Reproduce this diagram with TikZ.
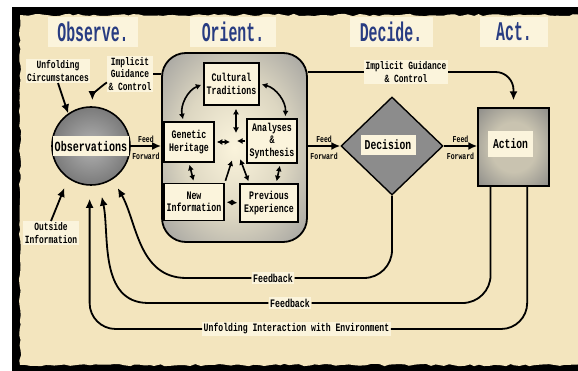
\documentclass[tikz,border=0pt]{standalone}
\usepackage{fontspec}
\usetikzlibrary{shapes.geometric, arrows.meta, decorations.pathmorphing}

\newfontfamily\typefont[FakeStretch=0.72]{Liberation Mono}
\newfontfamily\headfont[FakeStretch=0.55]{Liberation Mono}

\definecolor{parchment}{RGB}{243,229,190}
\definecolor{paper}{RGB}{251,244,220}
\definecolor{headblue}{RGB}{40,60,130}
\colorlet{glowA}{paper!88!black}
\colorlet{glowB}{black!40}
\colorlet{glowC}{black!62}
\colorlet{glowD}{black!75}
\colorlet{actA}{paper!80!black}
\colorlet{actB}{black!50}
\colorlet{actC}{black!68}

\pgfdeclareradialshading{orientglow}{\pgfpoint{0bp}{0bp}}{color(0bp)=(paper); color(18bp)=(glowA); color(38bp)=(glowB); color(50bp)=(glowC); color(75bp)=(glowD)}
\pgfdeclareradialshading{actionglow}{\pgfpoint{0bp}{0bp}}{color(0bp)=(actA); color(16bp)=(actA); color(40bp)=(actB); color(50bp)=(actC); color(75bp)=(glowD)}

\begin{document}
\begin{tikzpicture}[x=1pt, y=1pt,
  >={Latex[length=9pt,width=8pt]},
  flow/.style={line width=1.8pt},
  link/.style={line width=1.6pt, >={Latex[length=5.5pt,width=6pt]}},
  headbox/.style={fill=paper, text=headblue, minimum height=30pt, inner sep=0pt,
    font=\headfont\bfseries\fontsize{27}{27}\selectfont},
  note/.style={fill=paper, align=center, inner sep=1.5pt,
    font=\typefont\bfseries\fontsize{11}{12.5}\selectfont},
  feedlbl/.style={inner sep=1pt, font=\typefont\bfseries\fontsize{9}{9}\selectfont},
  factor/.style={draw, line width=1.6pt, fill=paper, align=center, inner sep=1pt,
    font=\typefont\bfseries\fontsize{11.5}{12.5}\selectfont},
  band/.style={fill=paper, inner sep=0pt,
    font=\typefont\bfseries\fontsize{13.5}{13.5}\selectfont}]

  % page, black edge and parchment
  \useasboundingbox (0,0) rectangle (578,-371);
  \fill[white] (0,0) rectangle (578,-371);
  \fill[black] (12,-7) rectangle (578,-371);
  \fill[parchment, decorate, decoration={random steps, segment length=5pt, amplitude=1.2pt}]
    (20,-15) rectangle (584,-365);

  % headings
  \node[headbox, minimum width=90pt] (observe) at (93,-32) {Observe.};
  \node[headbox, minimum width=86pt] (orienthead) at (233,-32) {Orient.};
  \node[headbox, minimum width=83pt] (decide) at (391,-32) {Decide.};
  \node[headbox, minimum width=68pt] (act) at (514,-32) {Act.};

  % observe
  \node[circle, draw, line width=1.6pt, minimum size=78pt, inner color=black!30, outer color=black!52] (obs) at (91,-146) {};
  \node[band, minimum width=76pt, minimum height=20pt, font=\typefont\bfseries\fontsize{14}{14}\selectfont] (obstext) at (obs) {Observations};
  \node[note] (unfold) at (58,-71) {Unfolding\\Circumstances};
  \node[note] (guideL) at (130,-74) {Implicit\\Guidance\\\& Control};
  \node[note] (outside) at (51,-233) {Outside\\Information};

  % orient
  \node[draw, line width=1.8pt, rounded corners=24pt, minimum width=145pt, minimum height=189pt, shading=orientglow] (orient) at (234.5,-147.5) {};
  \node[factor, minimum width=55pt, minimum height=42pt] (cult) at (231.5,-84) {Cultural\\Traditions};
  \node[factor, minimum width=50pt, minimum height=40pt] (gen) at (189,-142) {Genetic\\Heritage};
  \node[factor, minimum width=50pt, minimum height=44pt] (anal) at (272,-141) {Analyses\\\&\\Synthesis};
  \node[factor, minimum width=60pt, minimum height=37pt] (newinf) at (194,-202) {New\\Information};
  \node[factor, minimum width=58pt, minimum height=38pt] (prev) at (269,-203) {Previous\\Experience};
  \coordinate (hub) at (236,-148);

  % decide and act
  \node[diamond, draw, line width=1.4pt, fill=black!45, minimum width=102pt, minimum height=98pt, inner sep=0pt] (decision) at (392,-146) {};
  \node[band, minimum width=55pt, minimum height=20pt] (decisiontext) at (388,-145) {Decision};
  \node[draw, line width=1.4pt, minimum width=71pt, minimum height=78pt, shading=actionglow] (action) at (513.5,-147) {};
  \node[band, minimum width=45pt, minimum height=26pt] (actiontext) at (510.5,-144) {Action};
  \node[note] (guideR) at (406,-72) {Implicit Guidance\\\& Control};

  % loops back
  \node[note, font=\typefont\bfseries\fontsize{11.5}{12}\selectfont] (fbA) at (273,-278) {Feedback};
  \node[note, font=\typefont\bfseries\fontsize{11.5}{12}\selectfont] (fbB) at (290,-303) {Feedback};
  \node[note, font=\typefont\bfseries\fontsize{11.3}{12}\selectfont] (unf) at (296.5,-329) {Unfolding Interaction with Environment};

  \draw[flow, ->] (unfold.south) -- (obs.125);
  \draw[flow, ->, shorten >=6pt] (guideL.200) to[out=215, in=90] (obs.88);
  \draw[flow, ->, shorten >=10pt] (outside.north) -- (obs.235);
  \draw[flow] (orient.west |- guideL.east) -- (guideL.east);
  \draw[flow] (orient.east |- guideR.west) -- (guideR.west);
  \draw[flow, ->, rounded corners=18pt, shorten >=7pt] (guideR.east) -| (action.north);

  \draw[flow, ->] (obs.east) -- (obs.east -| orient.west)
    node[feedlbl, midway, above=2pt] (feedA) {Feed} node[feedlbl, midway, below=5pt] (fwdA) {Forward};
  \draw[flow, ->] (orient.east |- decision.west) -- (decision.west)
    node[feedlbl, midway, above=2pt] (feedB) {Feed} node[feedlbl, midway, below=5pt] (fwdB) {Forward};
  \draw[flow, ->] (decision.east) -- (decision.east -| action.west)
    node[feedlbl, midway, above=2pt] (feedC) {Feed} node[feedlbl, midway, below=5pt] (fwdC) {Forward};

  \draw[flow, rounded corners=28pt] (decision.south) |- (fbA.east);
  \draw[flow, ->, shorten >=10pt] (fbA.west) -- ++(-65,0) to[out=180, in=-60] (obs.-57);
  \draw[flow, rounded corners=28pt] (action.-120) |- (fbB.east);
  \draw[flow, ->, shorten >=12pt] (fbB.west) -- ++(-120,0) to[out=180, in=-78] (obs.-78);
  \draw[flow, rounded corners=26pt] (action.-71) |- (unf.east);
  \draw[flow, ->, rounded corners=26pt, shorten >=13pt] (unf.west) -| (obs.-92);

  % inside orient
  \draw[link, <->, shorten <=2pt, shorten >=2pt] (cult.west) to[bend right=40] (gen.105);
  \draw[link, <->, shorten <=2pt, shorten >=2pt] (cult.east) to[bend left=40] (anal.60);
  \draw[link, <->, shorten <=3pt, shorten >=15pt] (cult.south -| hub) -- (hub);
  \draw[link, <->, shorten <=2pt, shorten >=6pt] (gen.east) -- (gen.east -| hub);
  \draw[link, ->, shorten <=1pt, shorten >=1pt] (anal.west) -- (anal.west -| hub);
  \draw[link, ->, shorten <=2pt, shorten >=13pt] (newinf.north east) -- (hub);
  \draw[link, <->, shorten <=12pt, shorten >=2pt] (hub) -- (prev.135);
  \draw[link, <->, shorten <=2pt, shorten >=2pt] (gen.south) -- (newinf.north);
  \draw[link, <->, shorten <=2pt, shorten >=2pt] (anal.-70) -- (prev.70);
  \draw[link, <->, shorten <=2pt, shorten >=2pt] (newinf.east) -- (prev.west);
\end{tikzpicture}
\end{document}
